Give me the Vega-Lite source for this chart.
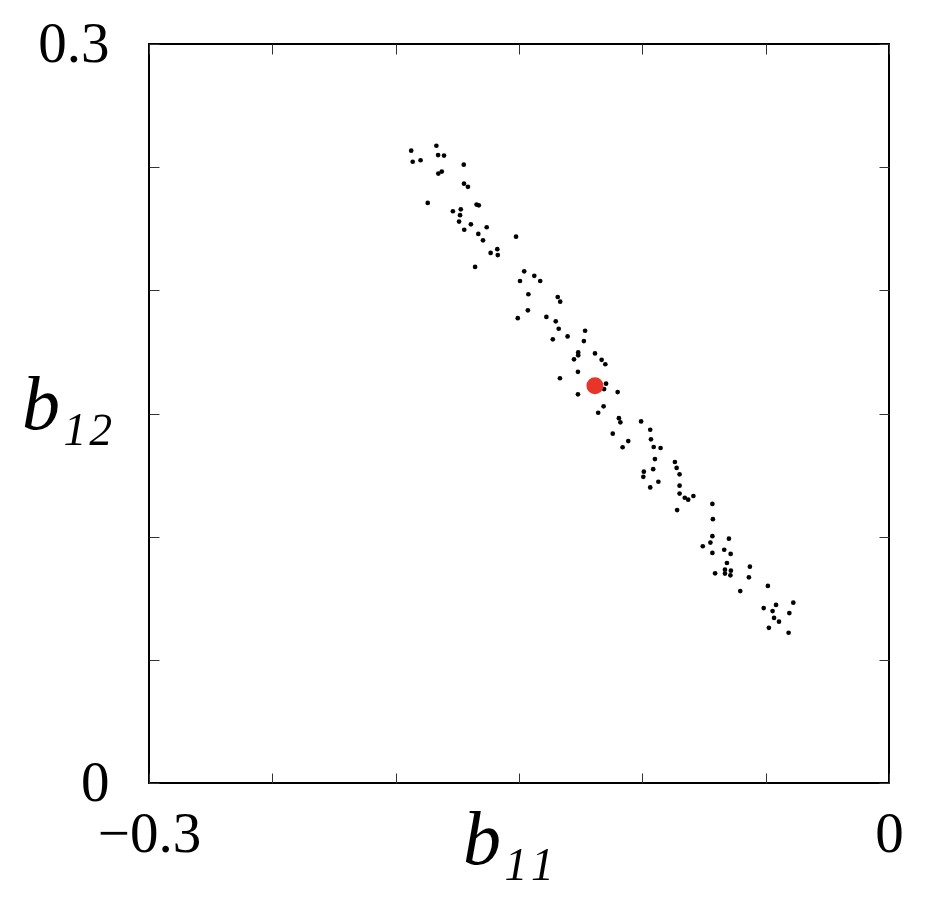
{
  "$schema": "https://vega.github.io/schema/vega-lite/v6.json",
  "autosize": {"type": "none"},
  "padding": {"left": 149, "top": 44, "right": 50, "bottom": 120},
  "width": 740,
  "height": 739,
  "background": "white",
  "config": {
    "view": {"stroke": "black", "strokeWidth": 2},
    "axis": {
      "domain": false,
      "grid": false,
      "tickSize": -10,
      "tickColor": "#333333",
      "tickWidth": 1,
      "labelFont": "Liberation Serif",
      "labelFontSize": 57,
      "labelColor": "black",
      "labelFlush": false,
      "labelOverlap": false,
      "labelBound": false,
      "titleFont": "Liberation Serif",
      "titleFontStyle": "italic",
      "titleFontWeight": "normal",
      "titleFontSize": 76,
      "titleColor": "black"
    }
  },
  "datasets": {
    "samples": [
      {"b11": -0.1937, "b12": 0.2567}, {"b11": -0.1835, "b12": 0.2587}, {"b11": -0.1931, "b12": 0.2522},
      {"b11": -0.1899, "b12": 0.2528}, {"b11": -0.1828, "b12": 0.2549}, {"b11": -0.1804, "b12": 0.2547},
      {"b11": -0.1724, "b12": 0.2510}, {"b11": -0.1827, "b12": 0.2474}, {"b11": -0.1813, "b12": 0.2482},
      {"b11": -0.1723, "b12": 0.2433}, {"b11": -0.1707, "b12": 0.2420}, {"b11": -0.1870, "b12": 0.2355},
      {"b11": -0.1672, "b12": 0.2348}, {"b11": -0.1663, "b12": 0.2345}, {"b11": -0.1768, "b12": 0.2321},
      {"b11": -0.1736, "b12": 0.2329}, {"b11": -0.1739, "b12": 0.2305}, {"b11": -0.1743, "b12": 0.2279},
      {"b11": -0.1695, "b12": 0.2268}, {"b11": -0.1631, "b12": 0.2256}, {"b11": -0.1722, "b12": 0.2246},
      {"b11": -0.1665, "b12": 0.2229}, {"b11": -0.1646, "b12": 0.2203}, {"b11": -0.1512, "b12": 0.2218},
      {"b11": -0.1588, "b12": 0.2167}, {"b11": -0.1615, "b12": 0.2152}, {"b11": -0.1586, "b12": 0.2143},
      {"b11": -0.1678, "b12": 0.2095}, {"b11": -0.1479, "b12": 0.2077}, {"b11": -0.1438, "b12": 0.2059},
      {"b11": -0.1496, "b12": 0.2038}, {"b11": -0.1414, "b12": 0.2038}, {"b11": -0.1462, "b12": 0.1984},
      {"b11": -0.1343, "b12": 0.1973}, {"b11": -0.1333, "b12": 0.1954}, {"b11": -0.1464, "b12": 0.1919},
      {"b11": -0.1505, "b12": 0.1887}, {"b11": -0.1389, "b12": 0.1892}, {"b11": -0.1351, "b12": 0.1874},
      {"b11": -0.1339, "b12": 0.1844}, {"b11": -0.1232, "b12": 0.1836}, {"b11": -0.1303, "b12": 0.1813},
      {"b11": -0.1363, "b12": 0.1801}, {"b11": -0.1237, "b12": 0.1794}, {"b11": -0.1260, "b12": 0.1748},
      {"b11": -0.1192, "b12": 0.1744}, {"b11": -0.1260, "b12": 0.1736}, {"b11": -0.1277, "b12": 0.1720},
      {"b11": -0.1165, "b12": 0.1718}, {"b11": -0.1150, "b12": 0.1700}, {"b11": -0.1261, "b12": 0.1669},
      {"b11": -0.1334, "b12": 0.1643}, {"b11": -0.1147, "b12": 0.1621}, {"b11": -0.1155, "b12": 0.1599},
      {"b11": -0.1100, "b12": 0.1587}, {"b11": -0.1261, "b12": 0.1578}, {"b11": -0.1157, "b12": 0.1529},
      {"b11": -0.1179, "b12": 0.1503}, {"b11": -0.1095, "b12": 0.1481}, {"b11": -0.1089, "b12": 0.1464},
      {"b11": -0.1005, "b12": 0.1468}, {"b11": -0.0968, "b12": 0.1434}, {"b11": -0.1120, "b12": 0.1418},
      {"b11": -0.1057, "b12": 0.1388}, {"b11": -0.1080, "b12": 0.1363}, {"b11": -0.0965, "b12": 0.1395},
      {"b11": -0.0954, "b12": 0.1364}, {"b11": -0.0926, "b12": 0.1360}, {"b11": -0.0949, "b12": 0.1315},
      {"b11": -0.0868, "b12": 0.1303}, {"b11": -0.0861, "b12": 0.1279}, {"b11": -0.0994, "b12": 0.1264},
      {"b11": -0.0996, "b12": 0.1243}, {"b11": -0.0956, "b12": 0.1274}, {"b11": -0.0849, "b12": 0.1253},
      {"b11": -0.0935, "b12": 0.1223}, {"b11": -0.0968, "b12": 0.1200}, {"b11": -0.0849, "b12": 0.1207},
      {"b11": -0.0849, "b12": 0.1175}, {"b11": -0.0828, "b12": 0.1158}, {"b11": -0.0814, "b12": 0.1150},
      {"b11": -0.0793, "b12": 0.1165}, {"b11": -0.0859, "b12": 0.1108}, {"b11": -0.0716, "b12": 0.1133},
      {"b11": -0.0714, "b12": 0.1071}, {"b11": -0.0716, "b12": 0.1002}, {"b11": -0.0649, "b12": 0.0992},
      {"b11": -0.0724, "b12": 0.0976}, {"b11": -0.0755, "b12": 0.0961}, {"b11": -0.0668, "b12": 0.0947},
      {"b11": -0.0716, "b12": 0.0934}, {"b11": -0.0642, "b12": 0.0930}, {"b11": -0.0657, "b12": 0.0893},
      {"b11": -0.0564, "b12": 0.0878}, {"b11": -0.0665, "b12": 0.0866}, {"b11": -0.0641, "b12": 0.0862},
      {"b11": -0.0705, "b12": 0.0851}, {"b11": -0.0665, "b12": 0.0850}, {"b11": -0.0643, "b12": 0.0843},
      {"b11": -0.0568, "b12": 0.0835}, {"b11": -0.0603, "b12": 0.0779}, {"b11": -0.0491, "b12": 0.0800},
      {"b11": -0.0388, "b12": 0.0732}, {"b11": -0.0508, "b12": 0.0710}, {"b11": -0.0458, "b12": 0.0723},
      {"b11": -0.0472, "b12": 0.0698}, {"b11": -0.0404, "b12": 0.0690}, {"b11": -0.0466, "b12": 0.0670},
      {"b11": -0.0446, "b12": 0.0655}, {"b11": -0.0487, "b12": 0.0630}, {"b11": -0.0407, "b12": 0.0610}
    ],
    "estimate": [
      {"b11": -0.1192, "b12": 0.1613}
    ]
  },
  "layer": [
    {
      "data": {"name": "samples"},
      "mark": {"type": "point", "filled": true, "size": 22, "color": "black", "opacity": 1, "strokeWidth": 0},
      "encoding": {
        "x": {
          "field": "b11", "type": "quantitative",
          "scale": {"domain": [-0.3, 0], "nice": false, "zero": false},
          "axis": {
            "orient": "bottom",
            "values": [-0.3, -0.25, -0.2, -0.15, -0.1, -0.05, 0],
            "labelExpr": "datum.value <= -0.299 ? '−0.3' : (datum.value >= -0.001 ? '0' : '')",
            "labelPadding": 33,
            "title": "b₁₁",
            "titleX": 359,
            "titleY": 80,
            "titleAlign": "center",
            "titleBaseline": "alphabetic",
            "titleAnchor": null
          }
        },
        "y": {
          "field": "b12", "type": "quantitative",
          "scale": {"domain": [0, 0.3], "nice": false, "zero": false},
          "axis": {
            "orient": "left",
            "values": [0, 0.05, 0.1, 0.15, 0.2, 0.25, 0.3],
            "labelExpr": "datum.value >= 0.299 ? '0.3' : (datum.value <= 0.001 ? '0' : '')",
            "labelPadding": 50,
            "title": "b₁₂",
            "titleAngle": 0,
            "titleX": -82,
            "titleY": 384,
            "titleAlign": "center",
            "titleBaseline": "alphabetic"
          }
        }
      }
    },
    {
      "data": {"name": "estimate"},
      "mark": {"type": "point", "filled": true, "size": 290, "color": "#e8352a", "opacity": 1, "strokeWidth": 0},
      "encoding": {
        "x": {
          "field": "b11", "type": "quantitative",
          "scale": {"domain": [-0.3, 0], "nice": false, "zero": false},
          "axis": {
            "orient": "top",
            "values": [-0.3, -0.25, -0.2, -0.15, -0.1, -0.05, 0],
            "labels": false,
            "title": null
          }
        },
        "y": {
          "field": "b12", "type": "quantitative",
          "scale": {"domain": [0, 0.3], "nice": false, "zero": false},
          "axis": {
            "orient": "right",
            "values": [0, 0.05, 0.1, 0.15, 0.2, 0.25, 0.3],
            "labels": false,
            "title": null
          }
        }
      }
    }
  ],
  "resolve": {"axis": {"x": "independent", "y": "independent"}}
}
